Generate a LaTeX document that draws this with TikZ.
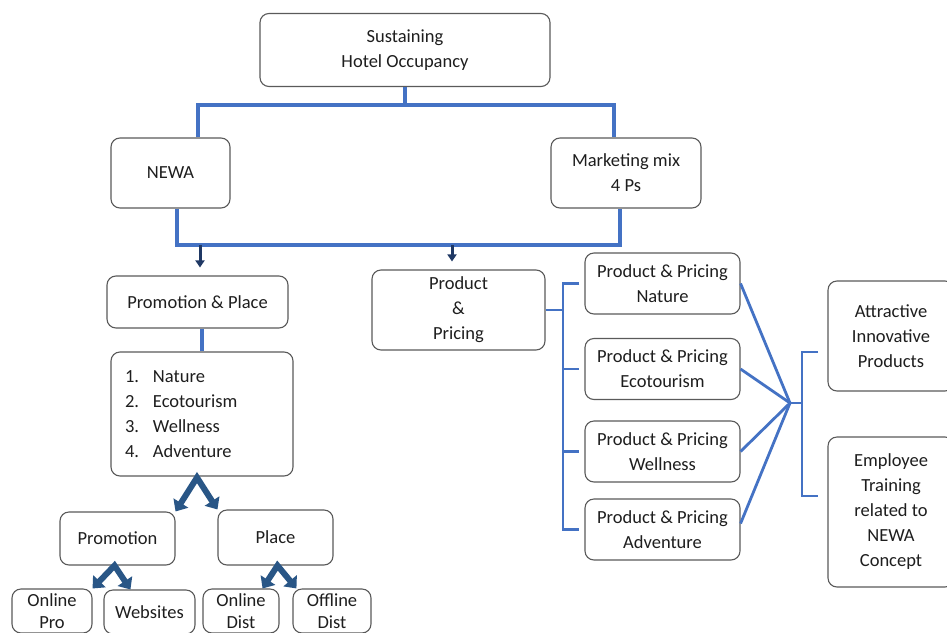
\documentclass[tikz,border=0pt]{standalone}
\usepackage{fontspec}
\setmainfont{Carlito}
\usetikzlibrary{arrows.meta,calc}

\definecolor{boxgray}{RGB}{90,90,90}
\definecolor{textgray}{RGB}{30,30,30}
\definecolor{linkblue}{RGB}{68,114,196}
\definecolor{arrownavy}{RGB}{31,56,100}
\definecolor{chevblue}{RGB}{41,86,134}

\begin{document}
\begin{tikzpicture}[x=1pt, y=-1pt,
    font=\fontsize{18.5}{25}\selectfont,
    box/.style={draw=boxgray, line width=1.1pt, rounded corners=9pt, align=center, inner sep=0pt, text=textgray},
    link/.style={draw=linkblue, line width=4pt},
    thinlink/.style={draw=linkblue, line width=2.8pt},
    down/.style={draw=arrownavy, line width=3pt, -{Triangle[width=9pt,length=7pt]}},
    fork/.style={draw=chevblue, line width=6pt, {Triangle[width=17pt,length=10pt]}-{Triangle[width=17pt,length=10pt]}}]

    \useasboundingbox (0,0) rectangle (947,632);
    \clip (0,0) rectangle (947,632);
    \fill[white] (0,0) rectangle (947,632);

    % Goal and the two pillars
    \node[box, minimum width=290pt, minimum height=73pt] (top) at (405,50) {Sustaining\\Hotel Occupancy};
    \node[box, minimum width=119pt, minimum height=70pt] (newa) at (170.5,173) {NEWA};
    \node[box, minimum width=150pt, minimum height=70pt] (mix) at (626,173) {Marketing mix\\4 Ps};

    % Left branch
    \node[box, minimum width=181pt, minimum height=52pt] (promplace) at (197.5,302) {Promotion \& Place};
    \node[box, minimum width=182pt, minimum height=124pt, text width=154pt, inner xsep=14pt, align=left] (list) at (202,414)
        {\makebox[28pt][l]{1.}Nature\\\makebox[28pt][l]{2.}Ecotourism\\\makebox[28pt][l]{3.}Wellness\\\makebox[28pt][l]{4.}Adventure};
    \node[box, minimum width=115pt, minimum height=53pt] (promo) at (117.5,538.5) {Promotion};
    \node[box, minimum width=115pt, minimum height=55pt] (place) at (275.5,537.5) {Place};
    \node[box, minimum width=80pt, minimum height=44pt, font=\fontsize{18.5}{22}\selectfont] (onpro) at (52,611) {Online\\Pro};
    \node[box, minimum width=91pt, minimum height=44pt] (webs) at (149.5,612) {Websites};
    \node[box, minimum width=76pt, minimum height=44pt, font=\fontsize{18.5}{22}\selectfont] (ondist) at (241,611) {Online\\Dist};
    \node[box, minimum width=78pt, minimum height=44pt, font=\fontsize{18.5}{22}\selectfont] (offdist) at (332,611) {Offline\\Dist};

    % Right branch
    \node[box, minimum width=173pt, minimum height=80pt] (prodpric) at (458.5,310) {Product\\\&\\Pricing};
    \foreach \n/\y/\t in {ppnat/283.5/Nature, ppeco/369/Ecotourism, ppwel/451.5/Wellness, ppadv/529.5/Adventure}
        \node[box, minimum width=155pt, minimum height=61pt] (\n) at (662.5,\y) {Product \& Pricing\\\t};
    \node[box, minimum width=126pt, minimum height=110pt] (attr) at (891,336) {Attractive\\Innovative\\Products};
    \node[box, minimum width=126pt, minimum height=150pt] (empl) at (891,512) {Employee\\Training\\related to\\NEWA\\Concept};

    % Split below the goal
    \coordinate (j1) at (405,105);
    \draw[link] (top.south) -- (j1);
    \draw[link] ([xshift=27pt]newa.north) |- (j1) -| ([xshift=-12pt]mix.north);

    % Merge below the pillars
    \coordinate (j2) at (452,245);
    \coordinate (j3) at (200,245);
    \draw[link] ([xshift=6pt]newa.south) |- (j2) -| ([xshift=-6pt]mix.south);
    \draw[down, shorten >=8pt] (j3) -- (j3 |- promplace.north);
    \draw[down, shorten >=8pt] (j2) -- (j2 |- prodpric.north);

    % Promotion & Place down to the list
    \draw[link] (list.north |- promplace.south) -- (list.north);

    % Forks
    \coordinate (f1) at ($(list.south)+(-5,1)$);
    \draw[fork] (promo.north east) -- (f1) -- (place.north west);
    \draw[fork] (onpro.north east) -- ($(promo.south)+(-3,0)$) -- ($(webs.north west)+(27,0)$);
    \draw[fork] ($(ondist.north east)+(-17,0)$) -- ($(place.south)+(2,0)$) -- ($(offdist.north west)+(4,0)$);

    % Product & Pricing bracket
    \coordinate (b1) at (563,310);
    \draw[thinlink] (prodpric.east) -- (b1);
    \draw[thinlink] ([xshift=-5pt]ppnat.west) -- (ppnat.west -| b1) -- (ppadv.west -| b1) -- ([xshift=-5pt]ppadv.west);
    \foreach \n in {ppeco, ppwel}
        \draw[thinlink] (\n.west -| b1) -- ([xshift=-5pt]\n.west);

    % Lines meeting in one point
    \coordinate (cv) at (790,403);
    \foreach \n in {ppnat, ppeco, ppwel}
        \draw[thinlink] (\n.east) -- (cv);
    \draw[thinlink] ([yshift=6pt]ppadv.east) -- (cv);

    % Bracket to the outcomes
    \coordinate (b2) at (802,403);
    \coordinate (t1) at (818,352);
    \coordinate (t2) at (818,496);
    \draw[thinlink] (cv) -- (b2);
    \draw[thinlink] (t1) -- (t1 -| b2) -- (t2 -| b2) -- (t2);

\end{tikzpicture}
\end{document}
